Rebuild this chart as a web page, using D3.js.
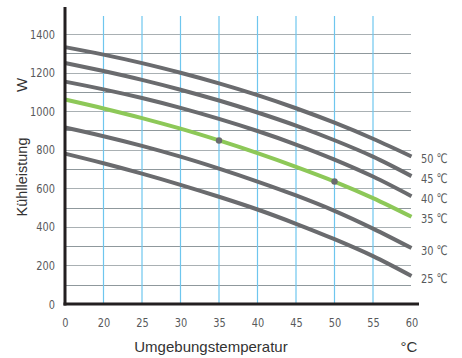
<!DOCTYPE html>
<html><head><meta charset="utf-8">
<script src="https://cdn.jsdelivr.net/npm/d3@7"></script>
<style>body{margin:0;background:#fff}svg{display:block}</style>
</head><body><svg id="c" width="462" height="358"></svg>
<script>
const xTicks = ["0","20","25","30","35","40","45","50","55","60"];
const yTicks = [0,200,400,600,800,1000,1200,1400];
const gridY = [100,200,300,400,500,600,700,800,900,1000,1100,1200,1300,1400];
const gridX = ["20","25","30","35","40","45","50","55"];
const s50 = [1332,1293,1249,1199,1144,1083,1015,940,857,765];
const s45 = [1250,1208,1162,1111,1055,993,925,849,764,663];
const s40 = [1153,1113,1068,1017,960,897,827,749,661,559];
const s35 = [1060,1014,964,909,848,782,711,635,549,452];
const s30 = [915,870,820,764,702,635,563,483,391,290];
const s25 = [780,730,676,618,556,490,416,336,248,145];
const seriesNames = ["50 \u2103","45 \u2103","40 \u2103","35 \u2103","30 \u2103","25 \u2103"];
const markers = [{x:"35", v:848},{x:"50", v:635}];

const svg = d3.select("#c");
const x = d3.scalePoint().domain(xTicks).range([65, 411.5]);
const y = d3.scaleLinear().domain([0,1400]).range([304, 34]);
const tickFont = "'DejaVu Sans Condensed','Liberation Sans Narrow',sans-serif";
const tickColor = "#58595b";
const sx = 0.84;

// horizontal grid
svg.append("g").selectAll("line").data(gridY).join("line")
  .attr("x1", 65).attr("x2", 411)
  .attr("y1", d => Math.round(y(d))+0.5).attr("y2", d => Math.round(y(d))+0.5)
  .attr("stroke", (d,i)=> i%2 ? "#a9b0b3" : "#8f989c").attr("stroke-width", 1.2);
// vertical grid
svg.append("g").selectAll("line").data(gridX).join("line")
  .attr("x1", d => x(d)).attr("x2", d => x(d))
  .attr("y1", 16).attr("y2", 304)
  .attr("stroke", "#6ec6ee").attr("stroke-width", 1.2);

// curves
const all = [s50,s45,s40,s35,s30,s25];
const line = d3.line().x((d,i)=>x(xTicks[i])).y(d=>y(d)).curve(d3.curveCatmullRom.alpha(0.5));
svg.append("g").selectAll("path").data(all).join("path")
  .attr("d", line).attr("fill","none")
  .attr("stroke", (d,i)=> i===3 ? "#8dc858" : "#6a6b6e")
  .attr("stroke-width", 4);

// markers
svg.append("g").selectAll("circle").data(markers).join("circle")
  .attr("cx", d=>x(d.x)).attr("cy", d=>y(d.v)).attr("r", 3.2).attr("fill","#6a6b6e");

// axes lines
svg.append("line").attr("x1",65).attr("x2",65).attr("y1",7).attr("y2",305.5)
  .attr("stroke","#231f20").attr("stroke-width",3);
svg.append("line").attr("x1",63.5).attr("x2",419).attr("y1",304).attr("y2",304)
  .attr("stroke","#231f20").attr("stroke-width",3);

// y tick labels
svg.append("g").selectAll("text").data(yTicks).join("text")
  .attr("transform", d=>`translate(55,${y(d)+4.5}) scale(${sx},1)`).attr("text-anchor","end")
  .attr("font-family", tickFont).attr("font-size", 13).attr("fill",tickColor)
  .text(d=>d);
// x tick labels
svg.append("g").selectAll("text").data(xTicks).join("text")
  .attr("transform", d=>`translate(${x(d)+0.5},327) scale(${sx},1)`).attr("text-anchor","middle")
  .attr("font-family", tickFont).attr("font-size", 13).attr("fill",tickColor)
  .text(d=>d);
// series labels
svg.append("g").selectAll("text").data(all).join("text")
  .attr("transform", d=>`translate(421,${y(d[d.length-1])+6.5}) scale(${sx},1)`)
  .attr("font-family", tickFont).attr("font-size", 13).attr("fill",tickColor)
  .text((d,i)=>seriesNames[i]);

// titles
const titleFont = "'Liberation Sans',Arial,sans-serif";
svg.append("text").attr("x", 211).attr("y", 352).attr("text-anchor","middle")
  .attr("font-family",titleFont).attr("font-size",15).attr("fill","#333")
  .text("Umgebungstemperatur");
svg.append("text").attr("x", 409).attr("y", 352).attr("text-anchor","middle")
  .attr("font-family",titleFont).attr("font-size",15).attr("fill","#333")
  .text("°C");
svg.append("text").attr("transform","translate(26.5,177) rotate(-90)").attr("text-anchor","middle")
  .attr("font-family",titleFont).attr("font-size",14.5).attr("fill","#333")
  .text("Kühlleistung");
svg.append("text").attr("transform","translate(26.5,85) rotate(-90)").attr("text-anchor","middle")
  .attr("font-family",titleFont).attr("font-size",15).attr("fill","#333")
  .text("W");
</script></body></html>
